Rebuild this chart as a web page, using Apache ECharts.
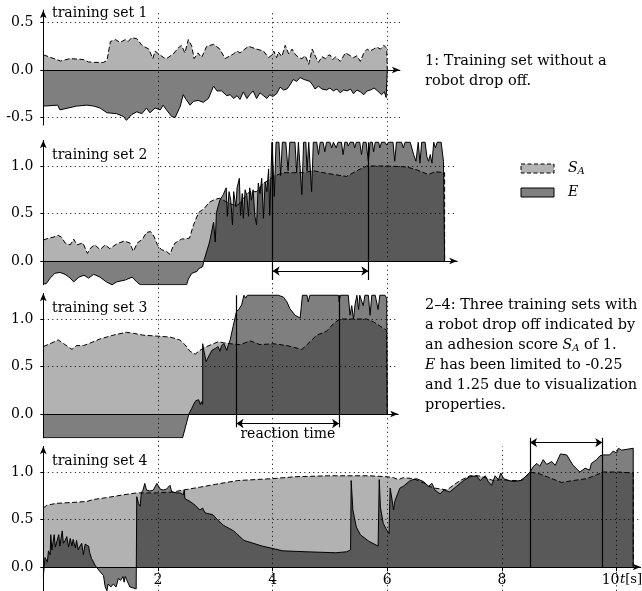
<!DOCTYPE html>
<html>
<head>
<meta charset="utf-8">
<script src="https://cdn.jsdelivr.net/npm/echarts@6/dist/echarts.min.js"></script>
<style>
  html, body { margin: 0; padding: 0; background: #fff; }
  #chart { width: 642px; height: 591px; }
</style>
</head>
<body>
<div id="chart"></div>
<script>
// Adhesion score S_A and estimator E over time t [s], one pair per training set.
const saSet1 = [[0,0.16],[0.3,0.095],[0.47,0.12],[0.7,0.11],[0.79,0.085],[0.88,0.08],[1.05,0.08],[1.11,0.1],[1.17,0.3],[1.26,0.32],[1.34,0.29],[1.43,0.32],[1.48,0.3],[1.54,0.34],[1.63,0.33],[1.72,0.26],[1.84,0.22],[1.91,0.12],[1.95,0.2],[2.01,0.17],[2.1,0.13],[2.15,0.12],[2.27,0.17],[2.35,0.23],[2.41,0.26],[2.47,0.18],[2.53,0.32],[2.59,0.25],[2.63,0.12],[2.7,0.18],[2.76,0.13],[2.85,0.25],[2.97,0.27],[3.08,0.22],[3.17,0.12],[3.32,0.17],[3.38,0.2],[3.43,0.18],[3.58,0.25],[3.72,0.22],[3.84,0.2],[3.93,0.13],[3.99,0.16],[4.02,0.2],[4.07,0.13],[4.1,0.19],[4.16,0.14],[4.22,0.26],[4.28,0.17],[4.34,0.22],[4.4,0.16],[4.46,0.13],[4.51,0.12],[4.57,0.15],[4.63,0.06],[4.69,0.22],[4.75,0.14],[4.8,0.08],[4.86,0.14],[4.92,0.12],[4.96,0.15],[5.0,0.16],[5.05,0.11],[5.1,0.14],[5.18,0.09],[5.27,0.18],[5.33,0.16],[5.41,0.13],[5.47,0.15],[5.53,0.09],[5.59,0.18],[5.65,0.22],[5.7,0.2],[5.76,0.22],[5.82,0.24],[5.88,0.22],[5.94,0.26],[5.99,0.23],[6.0,0]];
const eSet1 = [[0,-0.38],[0.25,-0.37],[0.29,-0.42],[0.58,-0.38],[0.76,-0.37],[0.88,-0.38],[0.99,-0.4],[1.11,-0.45],[1.28,-0.46],[1.4,-0.49],[1.45,-0.53],[1.54,-0.47],[1.63,-0.44],[1.72,-0.46],[1.8,-0.4],[1.86,-0.45],[1.95,-0.4],[2.04,-0.42],[2.09,-0.37],[2.15,-0.42],[2.24,-0.49],[2.3,-0.5],[2.39,-0.38],[2.44,-0.26],[2.49,-0.31],[2.56,-0.37],[2.62,-0.33],[2.7,-0.32],[2.79,-0.34],[2.88,-0.3],[2.97,-0.17],[3.03,-0.22],[3.11,-0.22],[3.2,-0.27],[3.26,-0.26],[3.32,-0.3],[3.38,-0.27],[3.43,-0.31],[3.49,-0.23],[3.55,-0.3],[3.6,-0.26],[3.66,-0.22],[3.72,-0.3],[3.78,-0.24],[3.84,-0.27],[3.9,-0.3],[3.95,-0.26],[4.0,-0.28],[4.07,-0.25],[4.13,-0.18],[4.19,-0.21],[4.25,-0.2],[4.3,-0.16],[4.36,-0.1],[4.42,-0.12],[4.48,-0.08],[4.55,-0.1],[4.6,-0.11],[4.65,-0.12],[4.7,-0.16],[4.74,-0.2],[4.8,-0.17],[4.86,-0.2],[4.94,-0.21],[5.0,-0.19],[5.06,-0.22],[5.12,-0.2],[5.18,-0.24],[5.24,-0.21],[5.3,-0.22],[5.36,-0.2],[5.41,-0.25],[5.47,-0.21],[5.53,-0.23],[5.59,-0.26],[5.65,-0.22],[5.71,-0.21],[5.77,-0.19],[5.83,-0.22],[5.9,-0.26],[5.95,-0.23],[5.98,-0.29],[6.0,0]];

const saSet2 = [[0,0.22],[0.09,0.24],[0.17,0.25],[0.26,0.27],[0.32,0.25],[0.38,0.19],[0.47,0.17],[0.53,0.23],[0.59,0.17],[0.69,0.19],[0.77,0.08],[0.83,0.14],[0.9,0.17],[0.99,0.12],[1.08,0.17],[1.16,0.13],[1.28,0.18],[1.41,0.21],[1.51,0.19],[1.57,0.1],[1.64,0.19],[1.73,0.23],[1.8,0.3],[1.87,0.31],[1.93,0.26],[1.99,0.17],[2.06,0.12],[2.15,0.1],[2.21,0.07],[2.26,0.15],[2.3,0.19],[2.41,0.23],[2.55,0.24],[2.62,0.38],[2.71,0.51],[2.8,0.55],[2.9,0.62],[3.0,0.65],[3.08,0.66],[3.2,0.62],[3.31,0.59],[3.4,0.59],[3.49,0.66],[3.6,0.73],[3.72,0.73],[3.84,0.82],[3.93,0.85],[4.01,0.89],[4.19,0.93],[4.36,0.93],[4.54,0.93],[4.71,0.95],[4.97,0.92],[5.29,0.89],[5.47,0.95],[5.64,1.0],[5.99,1.0],[6.34,0.99],[6.51,0.96],[6.72,0.91],[6.83,0.94],[7.0,0.93],[7.0,0]];
const eSet2 = [[0,-0.24],[0.05,-0.24],[0.12,-0.18],[0.2,-0.13],[0.29,-0.12],[0.38,-0.14],[0.47,-0.18],[0.53,-0.22],[0.62,-0.17],[0.71,-0.15],[0.79,-0.18],[0.88,-0.14],[0.99,-0.17],[1.1,-0.22],[1.2,-0.25],[1.28,-0.22],[1.43,-0.2],[1.55,-0.17],[1.63,-0.22],[1.69,-0.25],[2.5,-0.25],[2.53,-0.19],[2.56,-0.2],[2.59,-0.13],[2.63,-0.12],[2.68,-0.11],[2.71,-0.08],[2.74,-0.07],[2.78,-0.06],[2.8,0],[2.9,0.2],[2.97,0.41],[3.0,0.2],[3.02,0.51],[3.08,0.64],[3.14,0.7],[3.19,0.77],[3.21,0.47],[3.24,0.73],[3.27,0.64],[3.3,0.38],[3.32,0.73],[3.36,0.57],[3.38,0.77],[3.42,0.87],[3.44,0.48],[3.47,0.71],[3.49,0.45],[3.52,0.75],[3.55,0.69],[3.58,0.47],[3.6,0.77],[3.63,0.64],[3.66,0.75],[3.69,0.47],[3.72,0.38],[3.75,0.82],[3.78,0.71],[3.81,0.87],[3.84,0.45],[3.87,0.83],[3.9,0.73],[3.93,0.97],[3.95,0.48],[3.97,0.9],[3.99,1.25],[4.03,0.68],[4.06,1.25],[4.11,1.25],[4.14,0.9],[4.17,1.25],[4.23,1.25],[4.27,0.95],[4.3,1.25],[4.39,1.25],[4.42,0.93],[4.45,1.25],[4.48,1.25],[4.51,0.7],[4.54,1.25],[4.58,1.25],[4.6,0.95],[4.63,1.25],[4.65,1.25],[4.68,0.73],[4.71,1.25],[4.77,1.25],[4.8,1.12],[4.83,1.25],[4.88,1.25],[4.91,1.15],[4.94,1.25],[5.0,1.25],[5.03,1.19],[5.06,1.25],[5.09,1.25],[5.11,1.19],[5.14,1.25],[5.2,1.25],[5.23,1.12],[5.26,1.25],[5.3,1.25],[5.32,1.21],[5.35,1.25],[5.41,1.25],[5.43,1.19],[5.46,1.25],[5.52,1.25],[5.55,1.12],[5.58,1.25],[5.63,1.25],[5.67,1.05],[5.7,1.25],[5.74,1.25],[5.76,1.15],[5.79,1.25],[5.85,1.25],[5.87,1.19],[5.9,1.25],[5.96,1.25],[5.99,1.22],[6.02,1.25],[6.1,1.25],[6.13,1.05],[6.16,1.25],[6.25,1.25],[6.28,1.19],[6.31,1.25],[6.4,1.25],[6.46,1.12],[6.5,1.05],[6.54,1.25],[6.57,1.03],[6.6,1.25],[6.66,1.25],[6.69,1.1],[6.72,1.05],[6.75,1.12],[6.78,1.03],[6.81,1.25],[6.84,1.19],[6.87,1.25],[6.94,1.25],[6.98,1.05],[7.0,1.05],[7.0,0]];

const saSet3 = [[0,0.71],[0.12,0.74],[0.26,0.78],[0.38,0.73],[0.5,0.68],[0.58,0.72],[0.7,0.72],[0.79,0.74],[0.99,0.79],[1.22,0.83],[1.45,0.86],[1.57,0.85],[1.74,0.83],[1.98,0.82],[2.21,0.81],[2.38,0.78],[2.47,0.73],[2.56,0.66],[2.65,0.63],[2.73,0.67],[2.85,0.71],[2.97,0.74],[3.05,0.76],[3.14,0.75],[3.26,0.74],[3.43,0.73],[3.52,0.75],[3.61,0.77],[3.78,0.73],[4.01,0.74],[4.25,0.72],[4.51,0.68],[4.6,0.73],[4.77,0.83],[4.94,0.87],[5.06,0.95],[5.17,1.0],[5.64,1.0],[5.76,0.97],[5.99,0.88],[6.0,0]];
const eSet3 = [[0,-0.25],[2.43,-0.25],[2.54,0],[2.59,0.06],[2.63,0.11],[2.66,0.14],[2.69,0.12],[2.71,0.15],[2.74,0.1],[2.76,0.13],[2.78,0.1],[2.78,0.74],[2.8,0.67],[2.84,0.55],[2.88,0.6],[2.94,0.67],[3.0,0.69],[3.05,0.71],[3.08,0.66],[3.11,0.72],[3.15,0.74],[3.2,0.67],[3.23,0.73],[3.26,0.78],[3.31,0.92],[3.34,1.0],[3.37,1.08],[3.41,1.1],[3.44,1.09],[3.46,1.15],[3.5,1.25],[3.53,1.22],[3.56,1.25],[4.1,1.25],[4.19,1.23],[4.25,1.18],[4.3,1.11],[4.39,1.04],[4.48,1.01],[4.51,1.0],[4.52,1.25],[4.6,1.25],[4.62,1.18],[4.65,1.25],[5.15,1.25],[5.16,1.18],[5.18,1.25],[5.32,1.25],[5.35,1.04],[5.38,1.14],[5.41,1.0],[5.44,1.16],[5.47,1.25],[5.5,1.1],[5.52,1.25],[5.58,1.14],[5.61,1.25],[5.67,1.25],[5.7,1.04],[5.73,1.25],[5.79,1.25],[5.84,1.1],[5.87,1.25],[5.96,1.25],[5.99,1.22],[6.0,1.22],[6.0,0]];

const saSet4 = [[0,0.62],[0.06,0.65],[0.23,0.67],[0.52,0.68],[0.76,0.69],[0.87,0.71],[1.1,0.73],[1.4,0.76],[1.63,0.78],[1.98,0.78],[2.27,0.79],[2.44,0.81],[2.73,0.84],[3.0,0.87],[3.39,0.91],[4.0,0.93],[4.39,0.95],[4.97,0.96],[5.68,0.96],[6.0,0.95],[6.11,0.94],[6.19,0.92],[6.28,0.94],[6.46,0.93],[6.57,0.9],[6.66,0.88],[6.72,0.85],[6.83,0.83],[6.95,0.82],[7.04,0.81],[7.15,0.86],[7.27,0.91],[7.44,0.96],[7.59,0.96],[7.71,0.94],[7.85,0.91],[8.0,0.92],[8.14,0.91],[8.35,0.91],[8.49,1.0],[8.66,0.98],[8.87,0.93],[9.04,0.89],[9.24,0.91],[9.48,0.93],[9.65,0.97],[9.77,1.0],[10.01,1.0],[10.29,0.99],[10.29,0]];
const eSet4 = [[0,-0.1],[0.03,0.1],[0.05,0.1],[0.07,0.05],[0.09,0.17],[0.12,0.13],[0.13,0.34],[0.15,0.18],[0.19,0.34],[0.21,0.21],[0.24,0.23],[0.27,0.34],[0.29,0.22],[0.33,0.38],[0.35,0.25],[0.38,0.28],[0.41,0.32],[0.44,0.21],[0.47,0.3],[0.5,0.22],[0.52,0.29],[0.56,0.2],[0.58,0.28],[0.61,0.18],[0.64,0.22],[0.67,0.25],[0.7,0.13],[0.73,0.24],[0.76,0.25],[0.79,0.22],[0.81,0.15],[0.84,0.09],[0.87,0.06],[0.9,0.02],[0.93,0.0],[0.99,-0.05],[1.05,-0.09],[1.08,-0.21],[1.11,-0.25],[1.13,-0.18],[1.18,-0.21],[1.22,-0.18],[1.27,-0.21],[1.31,-0.12],[1.35,-0.14],[1.39,-0.1],[1.41,-0.16],[1.43,-0.1],[1.45,-0.13],[1.48,-0.11],[1.51,-0.21],[1.54,-0.23],[1.62,-0.23],[1.63,0.74],[1.66,0.67],[1.69,0.64],[1.71,0.78],[1.74,0.81],[1.77,0.88],[1.8,0.81],[1.86,0.8],[1.92,0.81],[1.98,0.88],[2.01,0.9],[2.04,0.82],[2.09,0.81],[2.15,0.82],[2.21,0.86],[2.24,0.79],[2.33,0.78],[2.39,0.78],[2.44,0.76],[2.46,0.81],[2.47,0.72],[2.56,0.69],[2.65,0.65],[2.73,0.6],[2.78,0.62],[2.82,0.57],[2.96,0.55],[3.05,0.49],[3.14,0.44],[3.32,0.38],[3.5,0.28],[3.82,0.22],[4.18,0.17],[4.6,0.16],[5.1,0.15],[5.29,0.16],[5.36,0.18],[5.37,0.91],[5.4,0.6],[5.46,0.42],[5.53,0.34],[5.68,0.27],[5.84,0.22],[5.86,0.92],[5.88,0.63],[5.93,0.46],[5.99,0.39],[6.03,0.35],[6.05,0.83],[6.08,0.72],[6.11,0.6],[6.13,0.69],[6.18,0.77],[6.22,0.83],[6.28,0.85],[6.4,0.91],[6.51,0.93],[6.63,0.9],[6.72,0.85],[6.78,0.88],[6.83,0.81],[6.92,0.77],[6.99,0.81],[7.09,0.79],[7.21,0.85],[7.33,0.91],[7.44,0.95],[7.56,0.96],[7.62,0.91],[7.71,0.96],[7.76,0.9],[7.82,0.86],[7.88,0.96],[7.94,0.92],[7.98,0.99],[8.03,0.93],[8.12,0.91],[8.2,0.9],[8.32,0.91],[8.41,0.95],[8.49,1.0],[8.55,1.06],[8.61,1.09],[8.66,1.06],[8.72,1.13],[8.78,1.08],[8.87,1.11],[8.93,1.07],[9.02,1.19],[9.13,1.18],[9.24,1.07],[9.36,1.0],[9.45,1.04],[9.53,1.02],[9.56,1.09],[9.65,1.13],[9.71,1.17],[9.77,1.18],[9.88,1.18],[9.94,1.22],[10.0,1.2],[10.03,1.25],[10.09,1.23],[10.12,1.25],[10.29,1.25],[10.29,0]];

// Reaction time windows [start, end] in seconds
const reactionSet2 = [4.0, 5.67];
const reactionSet3 = [3.37, 5.16];
const reactionSet4 = [8.49, 9.75];

// Tick labels
const xTicks = [2, 4, 6, 8, 10];
const yTicksSet1 = [-0.5, 0, 0.5];
const yTicks = [0, 0.5, 1];

const SERIF = '"DejaVu Serif", serif';
const PX_PER_S = 57.33;   // horizontal scale shared by all panels
const PX_PER_UNIT = 95;   // vertical scale shared by all panels
const LEFT = 43.3;

const panels = [
  { zeroY: 70,  yMin: -0.58, yMax: 0.63, xMax: 6.22,  sa: saSet1, e: eSet1, ticks: yTicksSet1,
    vGrid: [2, 4, 6], hGrid: [-0.5, 0.5], gapBelow: 0.16, title: 'training set 1', titleY: 13 },
  { zeroY: 261, yMin: -0.25, yMax: 1.27, xMax: 7.22,  sa: saSet2, e: eSet2, ticks: yTicks,
    vGrid: [2, 4, 6], hGrid: [0.5, 1], gapBelow: 0.09, title: 'training set 2', titleY: 155,
    reaction: reactionSet2, span: [-0.2, 1.25], arrowAt: -0.105 },
  { zeroY: 414, yMin: -0.25, yMax: 1.27, xMax: 6.19,  sa: saSet3, e: eSet3, ticks: yTicks,
    vGrid: [2, 4, 6], hGrid: [0.5, 1], gapBelow: 0.09, title: 'training set 3', titleY: 308,
    reaction: reactionSet3, span: [-0.14, 1.25], arrowAt: -0.1, reactionLabel: 'reaction time' },
  { zeroY: 567, yMin: -0.25, yMax: 1.27, xMax: 10.42, sa: saSet4, e: eSet4, ticks: yTicks,
    vGrid: [2, 4, 6, 8, 10], hGrid: [0.5, 1], gapBelow: 0, title: 'training set 4', titleY: 461,
    reaction: reactionSet4, span: [0, 1.36], arrowAt: 1.31 }
];

const axisLineStyle = { color: '#000', width: 1 };
const labelFont = { color: '#000', fontFamily: SERIF, fontSize: 14 };

const grids = panels.map(p => ({
  left: LEFT,
  top: p.zeroY - p.yMax * PX_PER_UNIT,
  width: p.xMax * PX_PER_S,
  height: (p.yMax - p.yMin) * PX_PER_UNIT,
  containLabel: false,
  outerBoundsMode: 'none'
}));

const xAxes = panels.map((p, i) => ({
  type: 'value', gridIndex: i, min: 0, max: p.xMax,
  axisLine: { onZero: true, symbol: ['none', 'arrow'], symbolSize: [5, 8], lineStyle: axisLineStyle },
  axisTick: { show: false },
  axisLabel: { show: false },
  splitLine: { show: false }
}));
// time scale of the bottom panel: ticks and labels placed level with its zero line
const last = panels[panels.length - 1];
xAxes.push({
  type: 'value', gridIndex: panels.length - 1, min: 0, max: last.xMax, interval: 2,
  position: 'bottom', offset: -(last.yMin * -PX_PER_UNIT),
  axisLine: { show: false, onZero: false },
  axisTick: { show: true, length: 4, lineStyle: axisLineStyle },
  axisLabel: Object.assign({
    show: true, margin: 6, showMinLabel: false, showMaxLabel: false, hideOverlap: false,
    formatter: v => (xTicks.indexOf(v) < 0 ? '' : (v === 10 ? '{wide|10}' : String(v))),
    rich: { wide: { fontFamily: SERIF, fontSize: 14, color: '#000', padding: [0, 12, 0, 0] } }
  }, labelFont),
  splitLine: { show: false }
});

const yAxes = panels.map((p, i) => ({
  type: 'value', gridIndex: i, min: p.yMin, max: p.yMax,
  axisLine: { show: true, onZero: false, symbol: ['none', 'arrow'], symbolSize: [5, 8], lineStyle: axisLineStyle },
  axisTick: { show: true, customValues: p.ticks, length: 3, lineStyle: axisLineStyle },
  axisLabel: Object.assign({ show: true, customValues: p.ticks, margin: 10,
    formatter: v => (Math.abs(v) < 1e-9 ? 0 : v).toFixed(1) }, labelFont),
  splitLine: { show: false }
}));

const series = [];
panels.forEach((p, i) => {
  series.push({
    name: 'S_A', type: 'line', xAxisIndex: i, yAxisIndex: i, data: p.sa,
    symbol: 'none', silent: true, z: 2,
    lineStyle: { color: '#000', width: 1, type: [5, 2.5] },
    areaStyle: { color: 'rgba(0,0,0,0.3)', opacity: 1 }
  });
  series.push({
    name: 'E', type: 'line', xAxisIndex: i, yAxisIndex: i, data: p.e,
    symbol: 'none', silent: true, z: 3,
    lineStyle: { color: '#000', width: 1 },
    areaStyle: { color: 'rgba(0,0,0,0.5)', opacity: 1 }
  });
  // dotted grid lines
  const gridLines = p.hGrid.map(v => ({ coords: [[0, v], [p.xMax, v]] }))
    .concat(p.vGrid.map(t => ({ coords: [[t, p.yMin - p.gapBelow], [t, p.yMax]] })));
  series.push({
    type: 'lines', coordinateSystem: 'cartesian2d', xAxisIndex: i, yAxisIndex: i,
    data: gridLines, symbol: 'none', clip: false, silent: true, z: 4,
    lineStyle: { color: '#000', width: 1, opacity: 1, type: [1, 3.5], curveness: 0 }
  });
  if (p.reaction) {
    series.push({
      type: 'lines', coordinateSystem: 'cartesian2d', xAxisIndex: i, yAxisIndex: i,
      data: p.reaction.map(t => ({ coords: [[t, p.span[0]], [t, p.span[1]]] })),
      symbol: 'none', clip: false, silent: true, z: 5,
      lineStyle: { color: '#000', width: 1.2, opacity: 1, curveness: 0 }
    });
    series.push({
      type: 'lines', coordinateSystem: 'cartesian2d', xAxisIndex: i, yAxisIndex: i,
      data: [{ name: p.reactionLabel || '', coords: [[p.reaction[0], p.arrowAt], [p.reaction[1], p.arrowAt]] }],
      symbol: ['arrow', 'arrow'], symbolSize: 7, clip: false, silent: true, z: 5,
      lineStyle: { color: '#000', width: 1, opacity: 1, curveness: 0 },
      label: p.reactionLabel ? Object.assign({ show: true, position: 'insideMiddleBottom', distance: 4,
        formatter: '{b}' }, labelFont) : { show: false }
    });
  }
});

const RICH = {
  i: { fontStyle: 'italic', fontFamily: SERIF, fontSize: 14, fill: '#000' },
  s: { fontStyle: 'italic', fontFamily: SERIF, fontSize: 10, fill: '#000', padding: [7, 0, 0, 0] }
};
function text(x, y, str, align, size) {
  return {
    type: 'text', x: x, y: y, silent: true, z: 10,
    style: { text: str, fontFamily: SERIF, fontSize: size || 14, fill: '#000',
      align: align || 'left', verticalAlign: 'middle', lineHeight: 20, rich: RICH }
  };
}

const graphics = panels.map(p => text(52, p.titleY, p.title)).concat([
  text(425, 61, '1: Training set without a', 'left', 14.5),
  text(425, 81, 'robot drop off.', 'left', 14.5),
  text(425, 305, '2–4: Three training sets with', 'left', 14.5),
  text(425, 325, 'a robot drop off indicated by', 'left', 14.5),
  text(425, 345, 'an adhesion score {i|S}{s|A} of 1.', 'left', 14.5),
  text(425, 365, '{i|E} has been limited to -0.25', 'left', 14.5),
  text(425, 385, 'and 1.25 due to visualization', 'left', 14.5),
  text(425, 405, 'properties.', 'left', 14.5),
  {
    type: 'text', x: 642, y: 580, silent: true, z: 10,
    style: { text: '{i|t}[s]', fontFamily: SERIF, fontSize: 13, fill: '#000',
      align: 'right', verticalAlign: 'middle',
      rich: { i: { fontStyle: 'italic', fontFamily: SERIF, fontSize: 13, fill: '#000' } } }
  },
  // legend
  { type: 'rect', silent: true, z: 10, shape: { x: 521, y: 164, width: 33, height: 9 },
    style: { fill: '#b3b3b3', stroke: '#000', lineWidth: 1, lineDash: [4, 2.5] } },
  { type: 'rect', silent: true, z: 10, shape: { x: 521, y: 188, width: 33, height: 9 },
    style: { fill: '#808080', stroke: '#000', lineWidth: 1 } },
  text(568, 168, '{i|S}{s|A}'),
  text(568, 192, '{i|E}')
]);

const chart = echarts.init(document.getElementById('chart'), null, { renderer: 'canvas' });
chart.setOption({
  animation: false,
  backgroundColor: '#fff',
  textStyle: { fontFamily: SERIF },
  grid: grids,
  xAxis: xAxes,
  yAxis: yAxes,
  series: series,
  graphic: graphics
});
</script>
</body>
</html>
